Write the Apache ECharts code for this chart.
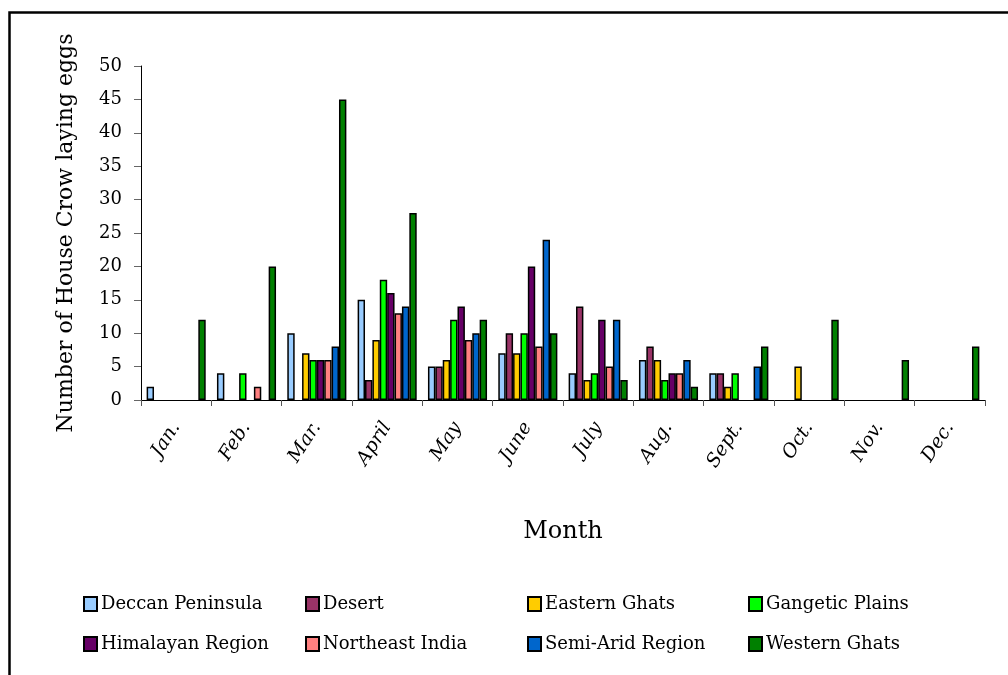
<!DOCTYPE html>
<html>
<head>
<meta charset="utf-8">
<script src="https://cdn.jsdelivr.net/npm/echarts@6/dist/echarts.min.js"></script>
<style>
  html, body { margin: 0; padding: 0; background: #fff; }
  #chart { width: 1008px; height: 675px; }
</style>
</head>
<body>
<div id="chart"></div>
<script>
// months on the x axis
const months = ['Jan.', 'Feb.', 'Mar.', 'April', 'May', 'June', 'July', 'Aug.', 'Sept.', 'Oct.', 'Nov.', 'Dec.']

// number of house crows laying eggs, per region
const deccan = [2, 4, 10, 15, 5, 7, 4, 6, 4, 0, 0, 0]
const desert = [0, 0, 0, 3, 5, 10, 14, 8, 4, 0, 0, 0]
const easternGhats = [0, 0, 7, 9, 6, 7, 3, 6, 2, 5, 0, 0]
const gangetic = [0, 4, 6, 18, 12, 10, 4, 3, 4, 0, 0, 0]
const himalayan = [0, 0, 6, 16, 14, 20, 12, 4, 0, 0, 0, 0]
const northeast = [0, 2, 6, 13, 9, 8, 5, 4, 0, 0, 0, 0]
const semiArid = [0, 0, 8, 14, 10, 24, 12, 6, 5, 0, 0, 0]
const westernGhats = [12, 20, 45, 28, 12, 10, 3, 2, 8, 12, 6, 8]

const yTicks = [0, 5, 10, 15, 20, 25, 30, 35, 40, 45, 50]

const regions = [
  { name: 'Deccan Peninsula', data: deccan, color: '#99CCFF' },
  { name: 'Desert', data: desert, color: '#993366' },
  { name: 'Eastern Ghats', data: easternGhats, color: '#FFCC00' },
  { name: 'Gangetic Plains', data: gangetic, color: '#00FF00' },
  { name: 'Himalayan Region', data: himalayan, color: '#660066' },
  { name: 'Northeast India', data: northeast, color: '#FF8080' },
  { name: 'Semi-Arid Region', data: semiArid, color: '#0066CC' },
  { name: 'Western Ghats', data: westernGhats, color: '#008000' }
]

const font = 'DejaVu Serif'

// legend laid out in 4 columns x 2 rows
const legendCols = [78, 300, 522, 743]
const legendRows = [590, 630]
const legends = regions.map((r, i) => ({
  data: [r.name],
  left: legendCols[i % 4],
  top: legendRows[Math.floor(i / 4)],
  itemWidth: 13,
  itemHeight: 14,
  icon: 'rect',
  textStyle: { fontFamily: font, fontSize: 18, color: '#000', padding: [0, 0, 0, -1] }
}))

const myChart = echarts.init(document.getElementById('chart'))

const option = {
  animation: false,
  backgroundColor: '#fff',
  graphic: [
    {
      type: 'rect',
      left: 7,
      top: 10,
      z: 0,
      shape: { width: 1100, height: 800 },
      style: { fill: 'none', stroke: '#000', lineWidth: 2.5 }
    }
  ],
  legend: legends,
  grid: { left: 141, right: 23, top: 66, bottom: 275 },
  xAxis: {
    type: 'category',
    data: months,
    name: 'Month',
    nameLocation: 'middle',
    nameGap: 120,
    nameTextStyle: { fontFamily: font, fontSize: 24, color: '#000' },
    axisLine: { lineStyle: { color: '#000', width: 1 } },
    axisTick: { show: true, length: 6, lineStyle: { color: '#555' } },
    axisLabel: {
      rotate: 57,
      margin: 24,
      fontFamily: font,
      fontStyle: 'italic',
      fontSize: 19,
      color: '#000'
    }
  },
  yAxis: {
    type: 'value',
    min: yTicks[0],
    max: yTicks[yTicks.length - 1],
    interval: 5,
    name: 'Number of House Crow laying eggs',
    nameLocation: 'middle',
    nameGap: 64,
    nameTextStyle: { fontFamily: font, fontSize: 22, color: '#000' },
    axisLine: { show: true, lineStyle: { color: '#000', width: 1 } },
    axisTick: { show: true, length: 7, lineStyle: { color: '#666' } },
    axisLabel: { margin: 19, fontFamily: font, fontSize: 18, color: '#000' },
    splitLine: { show: false }
  },
  series: regions.map((r) => ({
    name: r.name,
    type: 'bar',
    barGap: 0,
    barCategoryGap: '16%',
    itemStyle: { color: r.color, borderColor: '#000', borderWidth: 1.5 },
    data: r.data.map((v) => (v === 0 ? '-' : v))
  }))
}

myChart.setOption(option)

window.addEventListener('resize', () => {
  myChart.resize()
})
</script>
</body>
</html>
